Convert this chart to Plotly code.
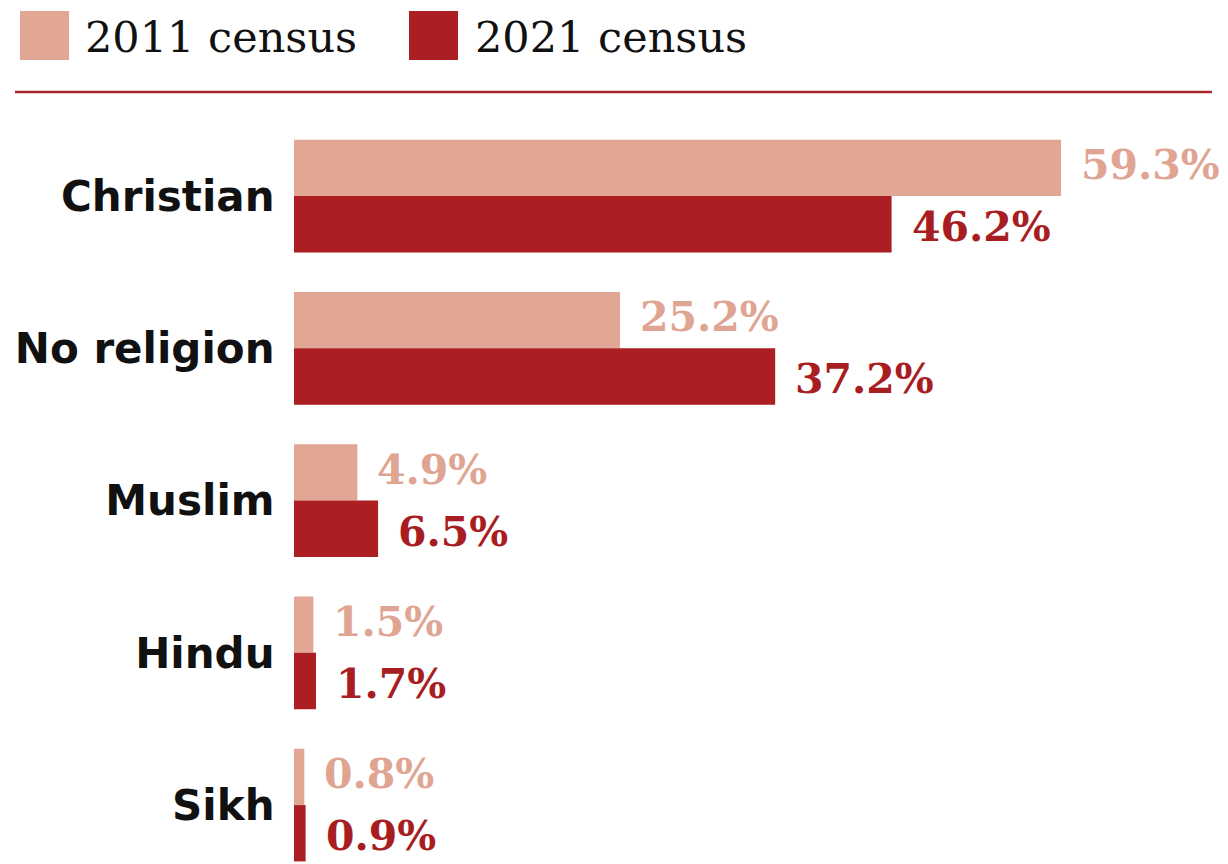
import plotly.graph_objects as go

categories = ["Christian", "No religion", "Muslim", "Hindu", "Sikh"]
census_2011 = [59.3, 25.2, 4.9, 1.5, 0.8]
census_2021 = [46.2, 37.2, 6.5, 1.7, 0.9]
series_names = ["2011 census", "2021 census"]

LIGHT = "#E1A794"
DARK = "#AB1E22"
LIGHT_TXT = "#E0A592"
DARK_TXT = "#A81D22"

W, H = 1228, 864
ML, MT = 294, 120
PW, PH = W - ML, H - MT
XMAX = PW / 12.935
CAT_PX = 152.24

fig = go.Figure()
fig.add_trace(go.Bar(y=categories, x=census_2011, orientation="h", name=series_names[0],
                     marker=dict(color=LIGHT, line=dict(width=0)), hoverinfo="skip"))
fig.add_trace(go.Bar(y=categories, x=census_2021, orientation="h", name=series_names[1],
                     marker=dict(color=DARK, line=dict(width=0)), hoverinfo="skip"))

annotations = []
for cat, v in zip(categories, census_2011):
    annotations.append(dict(x=v, y=cat, xref="x", yref="y", text=f"{v:.1f}%", showarrow=False,
                            xanchor="left", yanchor="middle", xshift=18, yshift=31,
                            font=dict(family="DejaVu Serif", size=41, color=LIGHT_TXT, weight="bold")))
for cat, v in zip(categories, census_2021):
    annotations.append(dict(x=v, y=cat, xref="x", yref="y", text=f"{v:.1f}%", showarrow=False,
                            xanchor="left", yanchor="middle", xshift=18, yshift=-31,
                            font=dict(family="DejaVu Serif", size=41, color=DARK_TXT, weight="bold")))

def px_x(p):
    return (p - ML) / PW

def px_y(p):
    return (H - p) / PH

# legend texts
for name, xpos in zip(series_names, [83, 473]):
    annotations.append(dict(x=px_x(xpos), y=px_y(37), xref="paper", yref="paper", text=name,
                            showarrow=False, xanchor="left", yanchor="middle",
                            font=dict(family="DejaVu Serif", size=43, color="#111111")))

shapes = [
    dict(type="rect", xref="paper", yref="paper", x0=px_x(20), x1=px_x(69), y0=px_y(60), y1=px_y(11),
         fillcolor=LIGHT, line=dict(width=0)),
    dict(type="rect", xref="paper", yref="paper", x0=px_x(409), x1=px_x(458), y0=px_y(60), y1=px_y(11),
         fillcolor=DARK, line=dict(width=0)),
    dict(type="line", xref="paper", yref="paper", x0=px_x(15), x1=px_x(1212), y0=px_y(92), y1=px_y(92),
         line=dict(color="#A8272B", width=2.5)),
]

fig.update_layout(
    width=W, height=H,
    margin=dict(l=ML, r=0, t=MT, b=0, pad=0),
    paper_bgcolor="white", plot_bgcolor="white",
    barmode="group", bargap=0.26, bargroupgap=0,
    showlegend=False,
    annotations=annotations, shapes=shapes,
    xaxis=dict(range=[0, XMAX], showgrid=False, zeroline=False, showticklabels=False,
               showline=False, ticks="", fixedrange=True),
    yaxis=dict(categoryorder="array", categoryarray=categories,
               range=[-0.5 + PH / CAT_PX, -0.5],
               showgrid=False, zeroline=False, showline=False,
               ticks="outside", ticklen=10, tickcolor="rgba(0,0,0,0)",
               tickfont=dict(family="DejaVu Sans", size=42, color="#111111", weight="bold"),
               fixedrange=True),
)

fig.write_html("out.html")
